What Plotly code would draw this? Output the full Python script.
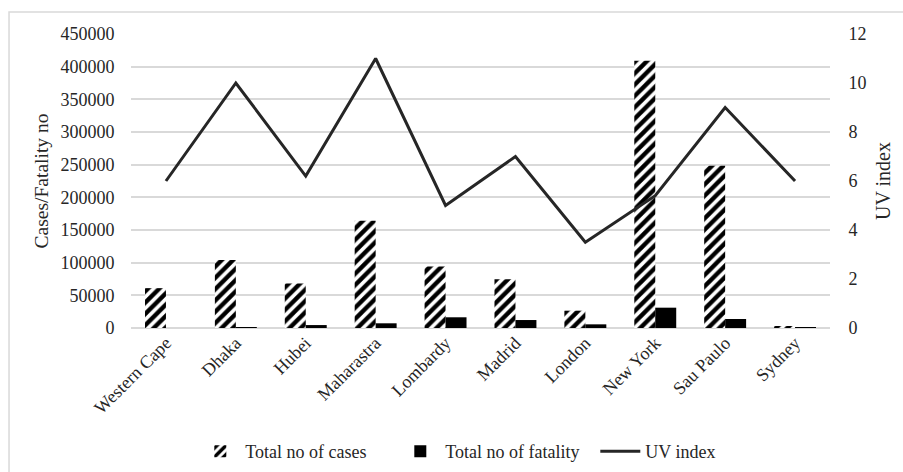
import plotly.graph_objects as go

# Regional COVID-19 totals alongside the local UV index
regions = ["Western Cape", "Dhaka", "Hubei", "Maharastra", "Lombardy",
           "Madrid", "London", "New York", "Sau Paulo", "Sydney"]
total_cases = [61000, 104000, 68000, 164000, 94000, 74500, 26500, 409000, 248500, 3000]
total_fatality = [0, 1400, 4500, 7200, 16400, 12200, 5600, 31100, 13800, 50]
uv_index = [6, 10, 6.2, 11, 5, 7, 3.5, 5.4, 9, 6]

serif = "Times New Roman"
grid = "#d9d9d9"
ink = "#262626"

fig = go.Figure()

fig.add_trace(go.Bar(
    x=regions, y=total_cases, name="Total no of cases",
    marker=dict(color="white", line=dict(width=0),
                pattern=dict(shape="/", fgcolor="black", bgcolor="white", fgopacity=1,
                             size=8, solidity=0.55, fillmode="overlay")),
))
fig.add_trace(go.Bar(
    x=regions, y=total_fatality, name="Total no of fatality",
    marker=dict(color="black", line=dict(width=0)),
))
fig.add_trace(go.Scatter(
    x=regions, y=uv_index, name="UV index", yaxis="y2",
    mode="lines", line=dict(color=ink, width=3),
))

fig.update_layout(
    width=903, height=472,
    margin=dict(l=131, r=73, t=34, b=144, autoexpand=False),
    paper_bgcolor="white", plot_bgcolor="white",
    font=dict(family=serif, size=18, color=ink),
    barmode="group", bargap=0.4, bargroupgap=0,
    showlegend=True,
    legend=dict(orientation="h", x=0.092, xanchor="left", y=-0.42, yanchor="middle",
                font=dict(family=serif, size=18, color=ink),
                itemwidth=40, entrywidth=145, traceorder="normal"),
    xaxis=dict(tickangle=-45, showgrid=False, showline=False, ticks="",
               tickfont=dict(family=serif, size=18, color=ink)),
    yaxis=dict(range=[0, 450000], dtick=50000, tickformat="d",
               showgrid=True, gridcolor=grid, gridwidth=1.5,
               zeroline=True, zerolinecolor=grid, zerolinewidth=1.5,
               showline=False, ticks="outside", ticklen=12, tickcolor="rgba(0,0,0,0)",
               tickfont=dict(family=serif, size=18, color=ink),
               title=dict(text="Cases/Fatality no", font=dict(family=serif, size=19.5, color=ink),
                          standoff=6)),
    yaxis2=dict(range=[0, 12], dtick=2, overlaying="y", side="right",
                showgrid=False, zeroline=False, showline=False,
                ticks="outside", ticklen=14, tickcolor="rgba(0,0,0,0)",
                tickfont=dict(family=serif, size=18, color=ink),
                title=dict(text="UV index", font=dict(family=serif, size=20, color=ink),
                           standoff=10)),
    shapes=[dict(type="rect", xref="paper", yref="paper",
                 x0=-0.1745, x1=1.2, y0=-0.6, y1=1.0748,
                 line=dict(color=grid, width=1.5), fillcolor="rgba(0,0,0,0)",
                 layer="below")],
)

fig.write_html("out.html")
